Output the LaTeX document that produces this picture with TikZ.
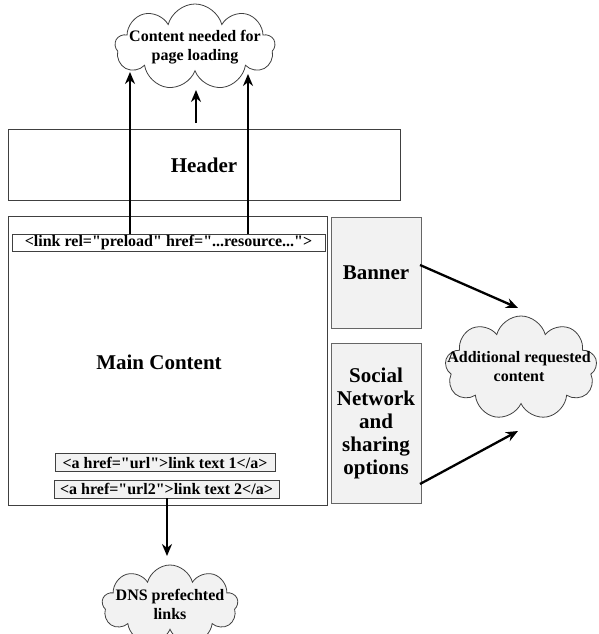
\documentclass[tikz,border=0pt]{standalone}
\usepackage{fontspec}
\setmainfont{Liberation Serif}[Ligatures=TeXOff]
\usepackage{tikz}
\usetikzlibrary{shapes.symbols, arrows.meta}

\definecolor{boxgray}{HTML}{F2F2F2}
\definecolor{edgegray}{HTML}{404040}

\tikzset{
  pagebox/.style={draw=edgegray, line width=1pt, fill=white},
  sidebox/.style={draw=edgegray!80, line width=0.8pt, fill=boxgray, align=center},
  tagbox/.style={draw=edgegray, line width=0.8pt, fill=boxgray, inner sep=0pt},
  puff/.style={cloud, cloud puffs=9, cloud ignores aspect, draw=edgegray, line width=0.8pt, inner sep=0pt},
  fetch/.style={-{Stealth[length=12pt,width=10pt]}, line width=2.3pt, black},
  bigfont/.style={font=\bfseries\fontsize{21}{23}\selectfont},
  smallfont/.style={font=\bfseries\fontsize{16}{19}\selectfont, align=center}
}

\begin{document}
\begin{tikzpicture}[x=1pt, y=-1pt]
			\useasboundingbox (0,0) rectangle (598,634);
			% page layout
			\node[pagebox, bigfont, minimum width=392, minimum height=71] (header) at (204,165) {Header};
			\node[pagebox, minimum width=319, minimum height=289] (main) at (167.5,360.5) {};
			\node[bigfont] (maintext) at (159,362) {Main Content};
			\node[sidebox, bigfont, minimum width=90, minimum height=111] (banner) at (376,272.5) {Banner};
			\node[sidebox, bigfont, minimum width=90, minimum height=160] (social) at (376,423) {Social\\Network\\and\\sharing\\options};
			
			% tags inside the main area
			\node[pagebox, smallfont, inner sep=0pt, minimum width=313, minimum height=17] (preload) at (168.5,243) {<link rel="preload" href="...resource...">};
			\node[tagbox, smallfont, minimum width=220, minimum height=18] (link1) at (165,462.5) {<a href="url">link text 1</a>};
			\node[tagbox, smallfont, minimum width=225, minimum height=18] (link2) at (166.5,489) {<a href="url2">link text 2</a>};
			
			% clouds, text set on top
			\node[puff, fill=white, minimum width=160, minimum height=86] (needed) at (195,47) {};
			\node[smallfont] (neededtext) at (195,47) {Content needed for\\page loading};
			\node[puff, fill=boxgray, minimum width=152, minimum height=104] (extra) at (521,368) {};
			\node[smallfont] (extratext) at (519,367) {Additional requested\\content};
			\node[puff, fill=boxgray, minimum width=136, minimum height=80] (dns) at (170,605) {};
			\node[smallfont] (dnstext) at (170,604) {DNS prefechted\\links};
			
			\coordinate (pre1) at (130,234);
			\coordinate (pre2) at (248,234);
			\coordinate (top1) at (130,72);
			\coordinate (top2) at (248,74);
			\coordinate (hd1) at (196,123);
			\coordinate (hd2) at (196,90);
			\coordinate (ban) at (420,265);
			\coordinate (ex1) at (518,308);
			\coordinate (soc) at (420,484);
			\coordinate (ex2) at (518,431);
			\coordinate (lk) at (167,498);
			\coordinate (dn) at (167,556);
			
			\path [fetch] (pre1) edge (top1);
			\path [fetch] (pre2) edge (top2);
			\path [fetch] (hd1) edge (hd2);
			\path [fetch] (ban) edge (ex1);
			\path [fetch] (soc) edge (ex2);
			\path [fetch] (lk) edge (dn);
		\end{tikzpicture}
\end{document}
